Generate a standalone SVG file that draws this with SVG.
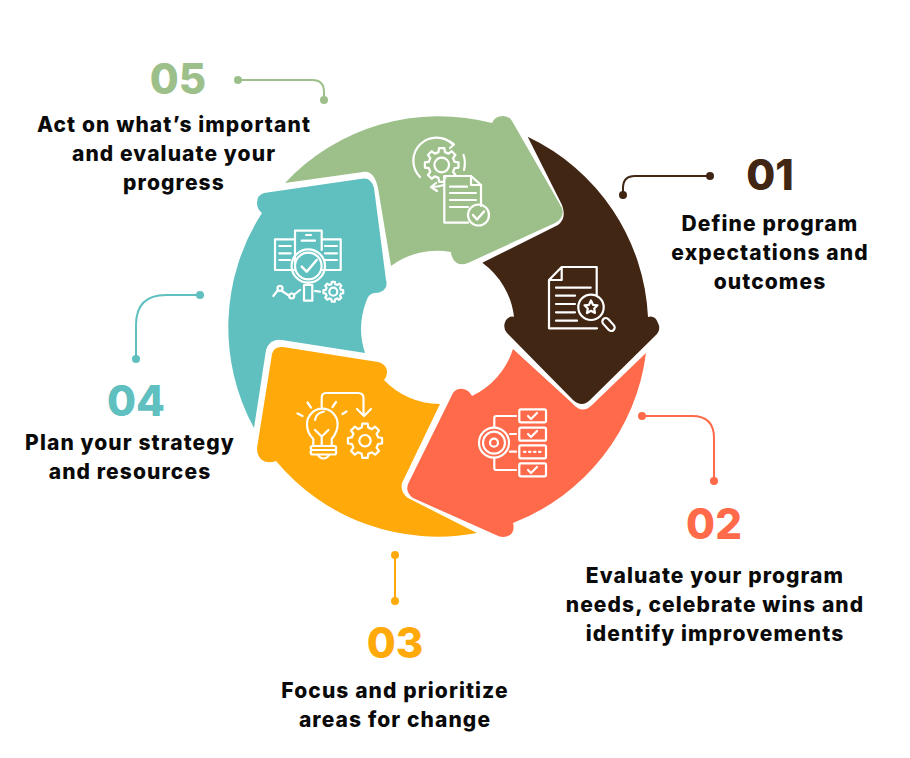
<svg xmlns="http://www.w3.org/2000/svg" xmlns:xlink="http://www.w3.org/1999/xlink" width="910" height="758" viewBox="0 0 910 758">
<style>
.num{font-family:"Inter","Liberation Sans",sans-serif;font-weight:800;font-size:42px;text-anchor:middle}
.t{font-family:"Inter","Liberation Sans",sans-serif;font-weight:800;font-size:21px;letter-spacing:1.1px;fill:#0a0a0a;text-anchor:middle}
.i{fill:none;stroke:#fff;stroke-width:2.200;stroke-linecap:round;stroke-linejoin:round}
.c{fill:none;stroke-width:2;stroke-linecap:round}
.g{fill:none;stroke:#fff;stroke-width:2.200;stroke-linejoin:round;vector-effect:non-scaling-stroke}
</style>
<defs>
<polygon id="gear" class="g" points=".757,-.189 .988,-.156 .988,.156 .757,.189 .669,.402 .809,.588 .588,.809 .402,.669 .189,.757 .156,.988 -.156,.988 -.189,.757 -.402,.669 -.588,.809 -.809,.588 -.669,.402 -.757,.189 -.988,.156 -.988,-.156 -.757,-.189 -.669,-.402 -.809,-.588 -.588,-.809 -.402,-.669 -.189,-.757 -.156,-.988 .156,-.988 .189,-.757 .402,-.669 .588,-.809 .809,-.588 .669,-.402"/>
</defs>
<rect width="910" height="758" fill="#fff"/>
<g id="connectors">
<g stroke="#412614" fill="#412614"><path class="c" d="M710,176H635Q623,176 623,188V198"/><circle cx="710" cy="176" r="4" stroke="none"/><circle cx="623" cy="195" r="4" stroke="none"/></g>
<g stroke="#ff6b4a" fill="#ff6b4a"><path class="c" d="M642,416H692Q714,416 714,438V481"/><circle cx="642" cy="416" r="4" stroke="none"/><circle cx="714" cy="481" r="4" stroke="none"/></g>
<g stroke="#ffaa0a" fill="#ffaa0a"><path class="c" d="M395,555V601"/><circle cx="395" cy="555" r="4" stroke="none"/><circle cx="395" cy="601" r="4" stroke="none"/></g>
<g stroke="#60bfbf" fill="#60bfbf"><path class="c" d="M200,295H166Q136,295 136,325V359"/><circle cx="200" cy="295" r="4" stroke="none"/><circle cx="136" cy="359" r="4" stroke="none"/></g>
<g stroke="#9dc08b" fill="#9dc08b"><path class="c" d="M238,80H312Q324,80 324,92V100"/><circle cx="238" cy="80" r="4" stroke="none"/><circle cx="324" cy="100" r="4" stroke="none"/></g>
</g>
<g id="node-05">
<path fill="#9dc08b" d="M285,183A210.500,210.500 0 0 1 492,123Q495,116 503,116Q509,116 512,121L562,208Q565,218 555,223L468,263Q458,267 453,259Q451,255 451,252A77,77 0 0 0 391,266L378,188Q374,170 363,172Z"/>
<g class="i">
<use xlink:href="#gear" transform="translate(441.700,165) scale(17)"/>
<circle cx="441.700" cy="165" r="7.300"/>
<path d="M420,177A23,23 0 0 1 453,144.500M450,141.500L454,144.500L450,148M463.500,155Q466,162 464,170M444,185Q437,187 432,187M436,183L431,187L437,191"/>
<path fill="#9dc08b" d="M444.300,176H471L481,185V206M468,222.700H444.300V176"/>
<path d="M471,176V185H481M450,186.700H467M450,193H476M450,200H476M450,207H468"/>
<circle cx="478.500" cy="215" r="10.500"/>
<path d="M473,215L477,219.500L484,211.500" stroke-width="2.500"/>
</g>
<text class="num" x="178" y="94" fill="#9dc08b">05</text>
<text class="t"><tspan x="174" y="132">Act on what’s important</tspan><tspan x="174" y="161">and evaluate your</tspan><tspan x="174" y="190">progress</tspan></text>
</g>
<g id="node-01">
<path fill="#412614" d="M527.700,136.700A210.500,210.500 0 0 1 648,317Q655,315 658,323Q661,329 657,334L590,400Q582,408 573,400L507,333Q502,327 506,320Q509,316 514,316.700A78,78 0 0 0 482.300,262.700L558,225Q567,218 562,205Z"/>
<g class="i">
<path d="M549,280L561.700,267H596.700V295M561.700,267V280H549V328.300H597M556,287.700H590.700M556,295.700H575M556,304H575M556,312.300H575M556,320.700H577"/>
<circle cx="591" cy="307.300" r="12.700"/>
<path d="M591,300.500L593,304.800L597.500,305.300L594.200,308.500L595,313L591,310.800L587,313L587.800,308.500L584.500,305.300L589,304.800Z"/>
<rect x="605" y="317" width="7" height="15" rx="3.500" transform="rotate(-42 608.500 324.500)"/>
</g>
<text class="num" x="770" y="190" fill="#412614">01</text>
<text class="t"><tspan x="770" y="231">Define program</tspan><tspan x="770" y="260">expectations and</tspan><tspan x="770" y="289">outcomes</tspan></text>
</g>
<g id="node-02">
<path fill="#ff6b4a" d="M646,353A210.500,210.500 0 0 1 513,523Q515,531 510,535Q503,539 496,535L413,498Q404,491 409,482L453,393Q457,388 463,389Q469,390 472,396A78,78 0 0 0 513,349L572,403Q582,415 592,405Z"/>
<g class="i">
<circle cx="494" cy="442.700" r="15"/><circle cx="494" cy="442.700" r="11"/><circle cx="494" cy="442.700" r="4"/>
<rect x="519.300" y="409.300" width="26.700" height="13" rx="1.500"/>
<rect x="519.300" y="427.700" width="26.700" height="13" rx="1.500"/>
<rect x="519.300" y="445.300" width="26.700" height="13" rx="1.500"/>
<rect x="519.300" y="463.300" width="26.700" height="13" rx="1.500"/>
<path d="M494.300,427V418Q494.300,416 496.300,416H516M510,434H516M510,451.700H516M494.300,458V468Q494.300,470 496.300,470H516"/>
<path d="M528,416L531,419L537,413M528,434L531,437L537,431M528,470L531,473L537,467"/>
<path d="M524,451.800H542" stroke-dasharray="1.500 3.500"/>
</g>
<text class="num" x="714" y="539" fill="#ff6b4a">02</text>
<text class="t"><tspan x="715" y="583">Evaluate your program</tspan><tspan x="715" y="612">needs, celebrate wins and</tspan><tspan x="715" y="641">identify improvements</tspan></text>
</g>
<g id="node-03">
<path fill="#ffaa0a" d="M477,533A210.500,210.500 0 0 1 276,461Q268,464 262,460Q257,456 257,448L272,354Q274,346 283,347L378,362Q386,364 387,371Q387,377 384,380A77,77 0 0 0 440,404L402,483Q400,492 408,498Z"/>
<g class="i">
<path d="M313.300,445V439C308,434 307,429 307,424A15.300,15.300 0 0 1 337.600,424C337.600,429 336,434 331.700,439V445"/>
<rect x="310.700" y="446" width="25.500" height="4" rx="2"/><rect x="310.700" y="450" width="25.500" height="4.500" rx="2"/>
<path d="M318,455Q320,458.500 323.500,458.500Q327,458.500 329,455M315,430L321.700,436.500L328.500,430M321.700,436.500V445M315,420Q316,413 324,411.500"/>
<path d="M297.500,413.500L302.500,416M307.500,402.500L311,407.500M336,402L332.500,407M346.500,411.500L342.500,414"/>
<path d="M321.700,407V398Q321.700,393 326,393H358Q363.500,393 363.500,398V415M357,409L364,416L371,409"/>
<use xlink:href="#gear" transform="translate(365,440.700) scale(17.300)"/>
<circle cx="365" cy="440.700" r="5.700"/>
</g>
<text class="num" x="395" y="658" fill="#ffaa0a">03</text>
<text class="t"><tspan x="395" y="698">Focus and prioritize</tspan><tspan x="395" y="727">areas for change</tspan></text>
</g>
<g id="node-04">
<path fill="#60bfbf" d="M262,213A210.500,210.500 0 0 0 254,428L266,350Q270,338 282,340L365,353A77,77 0 0 1 366,302Q368,294 374,293Q383,293 386,287Q387,283 386,280L374,188Q371,176 360,179L264,193Q257,195 257,203Q257,209 262,213Z"/>
<g class="i">
<path d="M295,264V239.300H275V270H295M295,239.300V230.700H321.700V250M321.700,239.300H340.700V270H322"/>
<path d="M279.300,246H290.700M279.300,253.300H290.700M279.300,260H290M325,246H337M325,253.300H337M325,260H337M306,235H311M301.700,240.700H315"/>
<circle cx="308.300" cy="266" r="16.700"/><circle cx="308.300" cy="266" r="13.300"/>
<path d="M301.700,266.700L306.700,271.700L316.700,260" stroke-width="2.500"/>
<path d="M308.300,282.700V285"/><rect x="304" y="285" width="8.300" height="15.700"/>
<path d="M273.300,296L278,290M282,291L288,295M295,294L300,290M315,291L320,291.700"/>
<circle cx="280" cy="288.300" r="2.500"/><circle cx="291.700" cy="296" r="2.500"/>
<use xlink:href="#gear" transform="translate(333.300,291.700) scale(10)"/>
<circle cx="333.300" cy="291.700" r="4"/>
</g>
<text class="num" x="136" y="416" fill="#60bfbf">04</text>
<text class="t"><tspan x="130" y="450">Plan your strategy</tspan><tspan x="130" y="479">and resources</tspan></text>
</g>
</svg>
